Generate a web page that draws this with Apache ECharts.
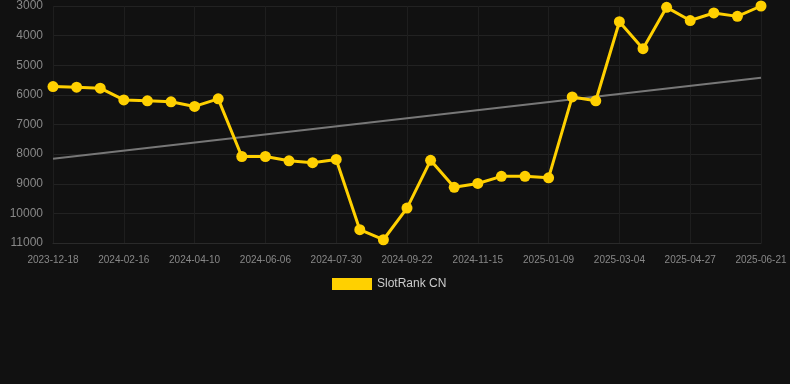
<!DOCTYPE html>
<html>
<head>
<meta charset="utf-8">
<script src="https://cdn.jsdelivr.net/npm/echarts@6/dist/echarts.min.js"></script>
<style>
html,body{margin:0;padding:0;background:#111111;}
#c{width:790px;height:384px;}
</style>
</head>
<body>
<div id="c"></div>
<script>
const categories = ["2023-12-18","2024-01-07","2024-01-27","2024-02-16","2024-03-05","2024-03-23","2024-04-10","2024-04-29","2024-05-18","2024-06-06","2024-06-24","2024-07-12","2024-07-30","2024-08-17","2024-09-04","2024-09-22","2024-10-10","2024-10-28","2024-11-15","2024-12-03","2024-12-21","2025-01-09","2025-01-27","2025-02-14","2025-03-04","2025-03-22","2025-04-09","2025-04-27","2025-05-15","2025-06-02","2025-06-21"];
const rankValues = [5720,5740,5775,6170,6200,6235,6390,6135,8080,8080,8225,8290,8180,10550,10890,9820,8210,9120,8990,8750,8750,8800,6070,6200,3530,4440,3045,3490,3235,3350,3000];
const trendStart = 8160;
const trendEnd = 5420;
const yTicks = [3000,4000,5000,6000,7000,8000,9000,10000,11000];

const trendData = categories.map((c,i)=> i===0 ? trendStart : (i===categories.length-1 ? trendEnd : null));

const chart = echarts.init(document.getElementById('c'));
chart.setOption({
  backgroundColor: '#111111',
  animation: false,
  grid: {left: 53, right: 29, top: 6, bottom: 141},
  legend: {
    data: ['SlotRank CN'],
    top: 273, left: 327,
    itemWidth: 40, itemHeight: 12,
    icon: 'rect',
    textStyle: {color: '#cccccc', fontSize: 12, fontFamily: 'Liberation Sans, Arial, sans-serif'}
  },
  xAxis: {
    type: 'category',
    data: categories,
    boundaryGap: false,
    axisLine: {show: true, lineStyle: {color: '#2a2a2a'}},
    axisTick: {show: false},
    axisLabel: {color: '#888888', fontSize: 10, interval: 2, margin: 12, fontFamily: 'Liberation Sans, Arial, sans-serif'},
    splitLine: {show: true, interval: 2, lineStyle: {color: '#1e1e1e'}}
  },
  yAxis: {
    type: 'value',
    inverse: true,
    min: yTicks[0], max: yTicks[yTicks.length-1], interval: 1000,
    axisLine: {show: false},
    axisTick: {show: false},
    axisLabel: {color: '#888888', fontSize: 12, margin: 10, formatter: v => String(v), fontFamily: 'Liberation Sans, Arial, sans-serif'},
    splitLine: {lineStyle: {color: '#222222'}}
  },
  series: [
    {
      name: 'SlotRank CN',
      type: 'line',
      data: rankValues,
      color: '#FFD000',
      symbol: 'circle',
      symbolSize: 11,
      lineStyle: {width: 3, color: '#FFD000'},
      itemStyle: {color: '#FFD000'},
      z: 3
    },
    {
      name: 'Trend',
      type: 'line',
      data: trendData,
      connectNulls: true,
      symbol: 'none',
      lineStyle: {width: 2, color: '#777777'},
      z: 2
    }
  ]
});
</script>
</body>
</html>
